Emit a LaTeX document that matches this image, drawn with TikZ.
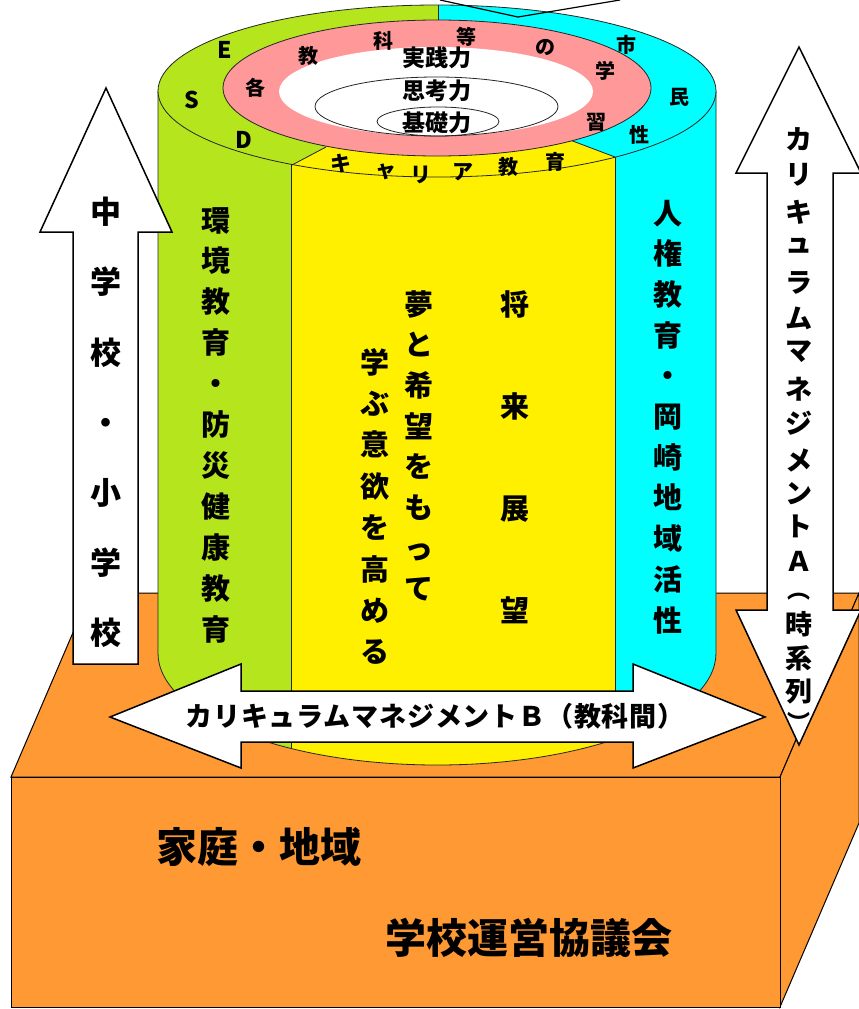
\documentclass[tikz,border=0pt]{standalone}
\usepackage{fontspec}
\setmainfont{Noto Sans CJK JP}
\newfontfamily\jpls{Noto Sans CJK JP}[LetterSpace=3]
\definecolor{boxor}{RGB}{255,153,51}
\definecolor{cylgreen}{RGB}{181,230,29}
\definecolor{cylyellow}{RGB}{255,240,0}
\definecolor{cylcyan}{RGB}{0,255,255}
\definecolor{ringpink}{RGB}{255,153,153}
\newcommand\cs{\rule[-0.12em]{0pt}{1em}}
\tikzset{
  edge/.style={draw=black, line width=1pt},
  thin edge/.style={draw=black!85, line width=0.8pt},
  bigarrow/.style={fill=white, draw=black, line width=1.5pt, line join=miter},
  lbl/.style={inner sep=0pt, font=\bfseries\fontsize{#1}{#1}\selectfont},
  vtext/.style 2 args={inner sep=0pt, align=center, font=\bfseries\fontsize{#1}{#2}\selectfont},
}
\begin{document}
\begin{tikzpicture}[x=1pt,y=-1pt]
\useasboundingbox (0,0) rectangle (859,1009);
\fill[white] (0,0) rectangle (859,1009);
% ---- orange base box ----
\filldraw[fill=boxor, edge] (11,777) -- (90,593) -- (859,593) -- (780,777) -- cycle;
\filldraw[fill=boxor, edge] (780,777) -- (859,593) -- (859,823) -- (780,1007) -- cycle;
\filldraw[fill=boxor, edge] (11,777) rectangle (780,1007);
% ---- cylinder body ----
\fill[cylgreen] (158,91) -- (158,653) arc[start angle=180, end angle=0, x radius=279, y radius=112] -- (716,91) -- cycle;
\begin{scope}
  \clip (158,91) -- (158,653) arc[start angle=180, end angle=0, x radius=279, y radius=112] -- (716,91) -- cycle;
  \fill[cylyellow] (291,0) rectangle (615,900);
  \fill[cylcyan] (615,0) rectangle (730,900);
\end{scope}
\draw[thin edge] (158,91) -- (158,653) arc[start angle=180, end angle=0, x radius=279, y radius=112] -- (716,91);
\draw[thin edge] (291,165) -- (291,748);
\draw[thin edge] (615,157) -- (615,739);
% ---- top face ----
\fill[cylgreen] (437,91) ellipse[x radius=279, y radius=86];
\begin{scope}
  \clip (437,91) ellipse[x radius=279, y radius=86];
  \fill[cylyellow] (340,140) -- (292,165) -- (250,187) -- (250,300) -- (700,300) -- (700,188) -- (615,157) -- (572,141) -- cycle;
  \fill[cylcyan] (438,-10) -- (900,-10) -- (900,188) -- (700,188) -- (615,157) -- (572,141) -- (438,141) -- cycle;
\end{scope}
\draw[thin edge] (438,5) -- (438,24);
\draw[thin edge] (292,165) -- (326,147);
\draw[thin edge] (615,157) -- (570,140);
\draw[thin edge] (437,91) ellipse[x radius=279, y radius=86];
\filldraw[fill=ringpink, thin edge] (437,88) ellipse[x radius=214, y radius=68];
\fill[white] (436,91.5) ellipse[x radius=157, y radius=44.5];
\draw[thin edge] (436.5,106.5) ellipse[x radius=121.5, y radius=29.5];
\draw[thin edge] (438,121.5) ellipse[x radius=61, y radius=14.5];
% ---- top line (cut-off shape) ----
\draw[black, line width=1.2pt] (440,0) -- (518,17) -- (620,0);
% ---- arrows ----
\filldraw[bigarrow] (73,664) -- (73,232) -- (40,232) -- (106,88) -- (172,232) -- (138,232) -- (138,664) -- cycle;
\filldraw[bigarrow] (799,47) -- (861,173) -- (833,173) -- (833,610) -- (861,610) -- (799,745) -- (736,610) -- (767,610) -- (767,173) -- (736,173) -- cycle;
\filldraw[bigarrow] (110,717) -- (241,664) -- (241,691) -- (633,691) -- (633,664) -- (765,717) -- (633,768) -- (633,742) -- (241,742) -- (241,768) -- cycle;
% ---- top face texts ----
\node[lbl=23] (jissen) at (437,58) {実践力};
\node[lbl=23] (shikou) at (437,91) {思考力};
\node[lbl=23] (kiso) at (437,123) {基礎力};
\node[lbl=20] (r1) at (255,88) {各};
\node[lbl=20] (r2) at (308,56) {教};
\node[lbl=20] (r3) at (383,41) {科};
\node[lbl=20] (r4) at (466,37) {等};
\node[lbl=20] (r5) at (545,47) {の};
\node[lbl=20] (r6) at (605,71) {学};
\node[lbl=20] (r7) at (596,122) {習};
\node[lbl=23] (esdE) at (225,50) {E};
\node[lbl=23] (esdS) at (192,100) {S};
\node[lbl=23] (esdD) at (244,140) {D};
\node[lbl=20] (c1) at (626,45) {市};
\node[lbl=20] (c2) at (679,97) {民};
\node[lbl=20] (c3) at (639,135) {性};
\node[lbl=21] (k1) at (341,164) {キ};
\node[lbl=21] (k2) at (386,172) {ャ};
\node[lbl=21] (k3) at (421,175) {リ};
\node[lbl=21] (k4) at (463,172) {ア};
\node[lbl=20] (k5) at (508,167) {教};
\node[lbl=20] (k6) at (555,162) {育};
% ---- vertical texts on cylinder ----
\node[vtext={29}{40.9}] (kankyo) at (216,424.5) {\cs 環\\境\\教\\育\\・\\防\\災\\健\\康\\教\\育\cs};
\node[vtext={29}{102.3}] (shorai) at (515,457.5) {\cs 将\\来\\展\\望\cs};
\node[vtext={29}{40.7}] (yume) at (419,446.5) {\cs 夢\\と\\希\\望\\を\\も\\っ\\て\cs};
\node[vtext={29}{41.4}] (manabu) at (375,507) {\cs 学\\ぶ\\意\\欲\\を\\高\\め\\る\cs};
\node[vtext={29}{40.7}] (jinken) at (668,416.5) {\cs 人\\権\\教\\育\\・\\岡\\崎\\地\\域\\活\\性\cs};
% ---- arrow texts ----
\node[vtext={31}{70.2}] (chugaku) at (106,422.5) {\cs 中\\学\\校\\・\\小\\学\\校\cs};
\foreach \ch/\yy [count=\i] in {カ/139,リ/175,キ/212,ュ/246,ラ/283,ム/318,マ/352,ネ/389,ジ/423,メ/460,ン/494,ト/526,Ａ/561}
  \node[lbl=27] (cmA\i) at (799,\yy) {\ch};
\node[lbl=23] (cmAp1) at (799,597) {︵};
\node[lbl=27] (cmAt) at (799,624) {時};
\node[lbl=27] (cmAk) at (799,658) {系};
\node[lbl=27] (cmAr) at (799,692) {列};
\node[lbl=23] (cmAp2) at (799,722) {︶};
\node[inner sep=0pt, font=\jpls\bfseries\fontsize{27}{27}\selectfont] (cmB) at (435,716) {カリキュラムマネジメントＢ（教科間）};
% ---- box texts ----
\node[lbl=41] (katei) at (259,847) {家庭・地域};
\node[lbl=41] (gakko) at (529,938) {学校運営協議会};
\end{tikzpicture}
\end{document}
